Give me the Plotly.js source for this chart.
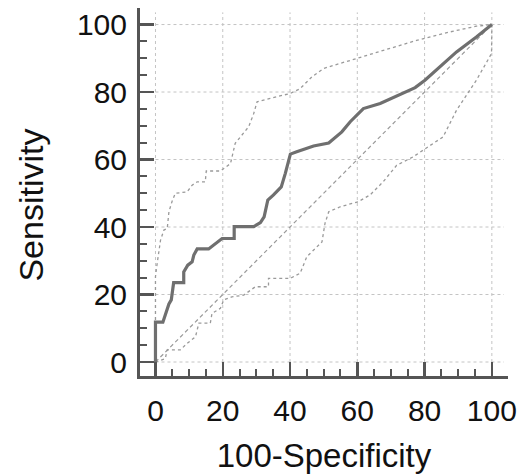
<!DOCTYPE html>
<html>
<head>
<meta charset="utf-8">
<script src="https://cdn.plot.ly/plotly-3.0.1.min.js"></script>
<style>html,body{margin:0;padding:0;background:#fff;}#chart{width:520px;height:474px;}</style>
</head>
<body>
<div id="chart"></div>
<script>
// ROC curve (100-Specificity vs Sensitivity)
const rocX = [0, 0, 2.2, 3.2, 4.0, 4.7, 5.4, 8.4, 8.4, 9.6, 10.9, 11.4, 12.4, 15.8, 17.3, 19.8, 23.4, 23.4, 29.2, 31.2, 32.3, 33.4, 35.1, 37.4, 38.6, 40.1, 42.0, 47.0, 51.5, 55.4, 57.9, 61.8, 66.8, 72.7, 77.2, 80.1, 84.6, 89.5, 95.4, 100];
const rocY = [0, 11.8, 11.8, 14.9, 17.2, 18.4, 23.5, 23.5, 26.7, 28.7, 29.7, 31.7, 33.5, 33.5, 34.6, 36.6, 36.6, 40.1, 40.1, 41.3, 43.0, 48.0, 49.5, 51.9, 55.9, 61.6, 62.3, 64.0, 64.9, 68.2, 71.2, 75.1, 76.6, 79.3, 81.3, 83.5, 87.4, 91.9, 96.3, 100];
// Upper confidence bound
const upX = [0, 0, 0.5, 1.5, 2.5, 3.5, 4.0, 4.9, 5.9, 9.4, 10.9, 12.4, 14.8, 15.1, 19.3, 22.3, 23.7, 25.2, 27.7, 29.2, 30.2, 34.1, 40.1, 43.0, 46.5, 50.0, 54.9, 67.7, 77.6, 87.5, 95.4, 100];
const upY = [0, 25.3, 29.2, 36.1, 39.1, 39.6, 44.5, 47.5, 50.0, 50.4, 52.4, 53.4, 53.4, 56.6, 56.6, 58.8, 64.8, 66.7, 69.7, 73.6, 77.1, 78.1, 79.6, 81.0, 84.5, 87.0, 88.5, 92.4, 95.3, 97.8, 99.5, 100];
// Lower confidence bound
const loX = [0, 2.9, 3.5, 7.4, 9.4, 11.9, 12.9, 16.3, 16.8, 19.3, 20.3, 22.7, 26.2, 29.7, 33.6, 33.6, 40.1, 43.0, 45.0, 47.0, 49.5, 50.4, 51.5, 54.9, 60.3, 63.8, 67.7, 71.7, 76.6, 81.1, 85.5, 89.5, 95.4, 99.9, 100];
const loY = [0, 1.0, 3.6, 3.6, 5.5, 7.5, 11.5, 11.5, 14.4, 15.9, 18.4, 19.3, 19.8, 22.3, 22.3, 24.8, 24.8, 26.3, 31.2, 33.2, 35.6, 41.1, 44.5, 46.0, 47.5, 49.5, 53.4, 58.3, 60.8, 63.8, 66.7, 74.6, 83.5, 91.4, 100];
// Reference diagonal
const diagX = [0, 100];
const diagY = [0, 100];
const tickVals = [0, 20, 40, 60, 80, 100];
const xTitle = '100-Specificity';
const yTitle = 'Sensitivity';

const bandStyle = {color: '#9a9a9a', width: 1.3, dash: '3px,3px'};
const traces = [
  {x: diagX, y: diagY, mode: 'lines', line: {color: '#9a9a9a', width: 1.2, dash: '4px,3px'}, hoverinfo: 'skip'},
  {x: upX, y: upY, mode: 'lines', line: bandStyle},
  {x: loX, y: loY, mode: 'lines', line: bandStyle},
  {x: rocX, y: rocY, mode: 'lines', line: {color: '#6f6f6f', width: 3.2}}
];

const shapes = [];
tickVals.forEach(v => {
  shapes.push({type: 'line', layer: 'below', x0: v, x1: v, y0: 0, y1: 103.6, line: {color: '#c4c4c4', width: 1, dash: 'dot'}});
  shapes.push({type: 'line', layer: 'below', y0: v, y1: v, x0: 0, x1: 103.6, line: {color: '#c4c4c4', width: 1, dash: 'dot'}});
});

const axisCommon = {
  showgrid: false, zeroline: false, showline: true, linecolor: '#555', linewidth: 3,
  ticks: 'inside', ticklen: 14, tickwidth: 2.5, tickcolor: '#555',
  tickvals: tickVals, ticktext: tickVals.map(String),
  minor: {dtick: 5, tick0: 0, ticks: 'inside', ticklen: 7, tickwidth: 2, tickcolor: '#555', showgrid: false},
  tickfont: {family: 'Liberation Sans, Arial, sans-serif', size: 30, color: '#111'},
  fixedrange: true
};

const layout = {
  width: 520, height: 474,
  margin: {l: 139.5, r: 12, t: 8, b: 98},
  paper_bgcolor: '#fff', plot_bgcolor: '#fff',
  showlegend: false,
  font: {family: 'Liberation Sans, Arial, sans-serif', color: '#111'},
  xaxis: Object.assign({}, axisCommon, {
    range: [-4.6, 104.8],
    ticklabelstandoff: 6,
    title: {text: xTitle, font: {size: 33, color: '#111'}, standoff: 20}
  }),
  yaxis: Object.assign({}, axisCommon, {
    range: [-4.15, 104.9],
    ticklabelstandoff: 4
  }),
  annotations: [{
    text: yTitle, textangle: -90, showarrow: false,
    xref: 'paper', yref: 'paper', x: -0.297, y: 0.465,
    xanchor: 'center', yanchor: 'middle',
    font: {size: 34, color: '#111', family: 'Liberation Sans, Arial, sans-serif'}
  }],
  shapes: shapes
};

Plotly.newPlot('chart', traces, layout, {displayModeBar: false, staticPlot: true});
</script>
</body>
</html>
